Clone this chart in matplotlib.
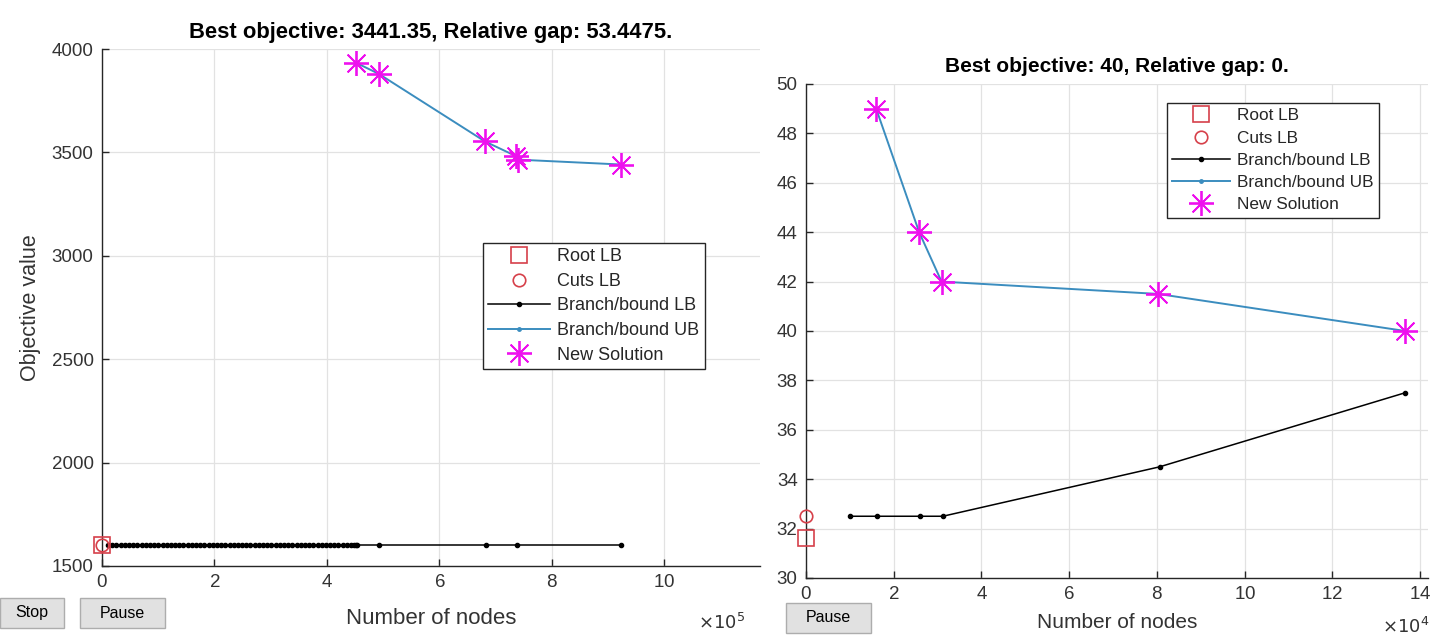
import matplotlib
matplotlib.use("Agg")
import matplotlib.pyplot as plt
from matplotlib.ticker import ScalarFormatter, MultipleLocator
from matplotlib.patches import Rectangle

plt.rcParams['font.family'] = ['Liberation Sans', 'DejaVu Sans']

# ---------------- data: left run ----------------
left_title = "Best objective: 3441.35, Relative gap: 53.4475."
left_root_x, left_root_y = [0], [1600]
left_cuts_x, left_cuts_y = [0], [1600]
left_lb_x = [10700, 18200, 25600, 33100, 40500, 48000, 55400, 62900, 70300, 77800,
             85200, 92700, 100100, 107600, 115000, 122500, 129900, 137400, 144800, 152300,
             159700, 167200, 174600, 182100, 189500, 197000, 204400, 211900, 219300, 226800,
             234200, 241700, 249100, 256600, 264000, 271500, 278900, 286400, 293800, 301300,
             308700, 316200, 323600, 331100, 338500, 346000, 353400, 360900, 368300, 375800,
             383200, 390700, 398100, 405600, 413000, 420500, 427900, 435400, 442800, 448000,
             451500, 453500, 492000, 682000, 738000, 923000]
left_lb_value = 1600
left_ub_x = [452000, 492000, 681000, 736000, 740000, 923000]
left_ub_y = [3933, 3880, 3553, 3482, 3465, 3441.35]
left_yticks = [1500, 2000, 2500, 3000, 3500, 4000]

# ---------------- data: right run ----------------
right_title = "Best objective: 40, Relative gap: 0."
right_root_x, right_root_y = [0], [31.6]
right_cuts_x, right_cuts_y = [0], [32.5]
right_lb_x = [10000, 16300, 26100, 31200, 80600, 136600]
right_lb_y = [32.5, 32.5, 32.5, 32.5, 34.5, 37.5]
right_ub_x = [16000, 25800, 30900, 80300, 136600]
right_ub_y = [49, 44, 42, 41.5, 40]

labels = ["Root LB", "Cuts LB", "Branch/bound LB", "Branch/bound UB", "New Solution"]

RED = '#D6404A'
BLUE = '#3B8DBF'
MAG = '#EE10EE'
STAR = (8, 2, 0)

W, H = 1434, 635
fig = plt.figure(figsize=(W / 100, H / 100), dpi=100)
fig.patch.set_facecolor('white')


def style_axes(ax, order):
    for s in ('top', 'right'):
        ax.spines[s].set_visible(False)
    for s in ('left', 'bottom'):
        ax.spines[s].set_color('#262626')
        ax.spines[s].set_linewidth(1.0)
    ax.tick_params(direction='in', length=5, width=1.0, colors='#262626',
                   labelsize=13.5, labelcolor='#333333', pad=6)
    ax.grid(True, color='#E2E2E2', linewidth=0.9)
    ax.set_axisbelow(True)
    fmt = ScalarFormatter(useMathText=True)
    fmt.set_powerlimits((order, order))
    ax.xaxis.set_major_formatter(fmt)
    ax.xaxis.get_offset_text().set_visible(False)


def draw(ax, rx, ry, cx, cy, lbx, lby, ubx, uby):
    h1, = ax.plot(rx, ry, linestyle='none', marker='s', markersize=11, clip_on=False,
                  markerfacecolor='none', markeredgecolor=RED, markeredgewidth=1.2, zorder=5)
    h2, = ax.plot(cx, cy, linestyle='none', marker='o', markersize=9, clip_on=False,
                  markerfacecolor='none', markeredgecolor=RED, markeredgewidth=1.2, zorder=5)
    h3, = ax.plot(lbx, lby, color='black', linewidth=1.1, marker='.', markersize=6, zorder=3)
    h4, = ax.plot(ubx, uby, color=BLUE, linewidth=1.4, marker='.', markersize=5, zorder=3)
    h5, = ax.plot(ubx, uby, linestyle='none', marker=STAR, markersize=18,
                  markeredgecolor=MAG, markerfacecolor=MAG, markeredgewidth=1.3, zorder=4)
    return [h1, h2, h3, h4, h5]


def legend(ax, hs, anchor, size):
    leg = ax.legend(hs, labels, loc='upper left', bbox_to_anchor=anchor,
                    fontsize=size, frameon=True, fancybox=False, framealpha=1,
                    edgecolor='#262626', handlelength=3.4, borderpad=0.3,
                    labelspacing=0.42, handletextpad=0.4, borderaxespad=0)
    leg.get_frame().set_linewidth(1.0)
    for t in leg.get_texts():
        t.set_color('#262626')


# ---------------- left axes ----------------
ax1 = fig.add_axes([102 / W, 1 - 566 / H, (760 - 102) / W, (566 - 49) / H])
style_axes(ax1, 5)
hs = draw(ax1, left_root_x, left_root_y, left_cuts_x, left_cuts_y,
          left_lb_x, [left_lb_value] * len(left_lb_x), left_ub_x, left_ub_y)
ax1.set_xlim(0, 11.7e5)
ax1.set_ylim(1500, 4000)
ax1.set_yticks(left_yticks)
ax1.xaxis.set_major_locator(MultipleLocator(2e5))
ax1.set_title(left_title, fontsize=15.8, fontweight='bold', pad=8)
ax1.set_xlabel("Number of nodes", fontsize=16, color='#333333', labelpad=12)
ax1.set_ylabel("Objective value", fontsize=15.5, color='#333333', labelpad=8)
ax1.text(0.977, -0.110, r"$\times10^{5}$", transform=ax1.transAxes, ha='right',
         va='center', fontsize=13, color='#333333')
legend(ax1, hs, (0.579, 0.625), 13)

# ---------------- right axes ----------------
ax2 = fig.add_axes([806 / W, 1 - 578 / H, (1428 - 806) / W, (578 - 84) / H])
style_axes(ax2, 4)
hs2 = draw(ax2, right_root_x, right_root_y, right_cuts_x, right_cuts_y,
           right_lb_x, right_lb_y, right_ub_x, right_ub_y)
ax2.set_xlim(0, 14.18e4)
ax2.set_ylim(30, 50)
ax2.yaxis.set_major_locator(MultipleLocator(2))
ax2.xaxis.set_major_locator(MultipleLocator(2e4))
ax2.set_title(right_title, fontsize=15, fontweight='bold', pad=9)
ax2.set_xlabel("Number of nodes", fontsize=15, color='#333333', labelpad=7)
ax2.text(1.003, -0.099, r"$\times10^{4}$", transform=ax2.transAxes, ha='right',
         va='center', fontsize=13, color='#333333')
legend(ax2, hs2, (0.580, 0.9615), 12.4)


# ---------------- GUI buttons ----------------
def button(x0, y0, x1, y1, text):
    fig.patches.append(Rectangle((x0 / W, 1 - y1 / H), (x1 - x0) / W, (y1 - y0) / H,
                                 transform=fig.transFigure, facecolor='#E1E1E1',
                                 edgecolor='#ADADAD', linewidth=1.0, zorder=10))
    fig.text((x0 + x1) / 2 / W, 1 - (y0 + y1) / 2 / H, text, ha='center', va='center',
             fontsize=11.5, color='black', zorder=11)


button(0, 598, 64, 628, "Stop")
button(80, 598, 165, 628, "Pause")
button(786, 603, 871, 633, "Pause")

fig.savefig("out.png", dpi=100)
